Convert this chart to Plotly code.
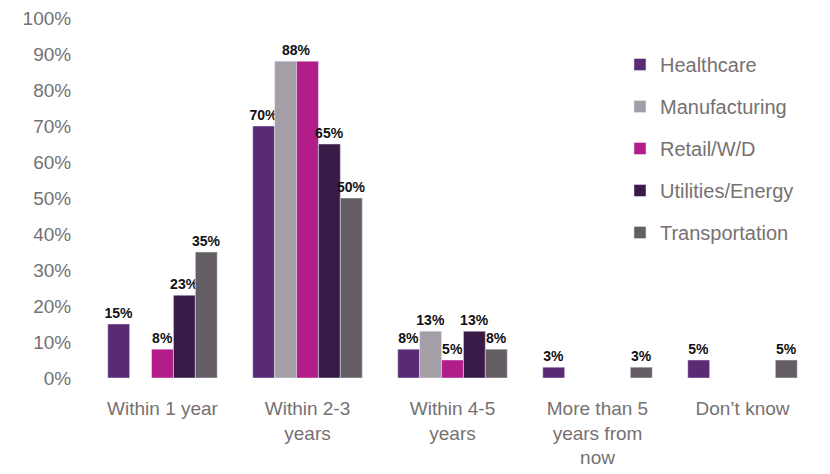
import plotly.graph_objects as go

categories = ["Within 1 year", "Within 2-3<br>years", "Within 4-5<br>years",
              "More than 5<br>years from<br>now", "Don\u2019t know"]
series_names = ["Healthcare", "Manufacturing", "Retail/W/D", "Utilities/Energy", "Transportation"]
healthcare = [0.15, 0.70, 0.08, 0.03, 0.05]
manufacturing = [None, 0.88, 0.13, None, None]
retail = [0.08, 0.88, 0.05, None, None]
utilities = [0.23, 0.65, 0.13, None, None]
transportation = [0.35, 0.50, 0.08, 0.03, 0.05]
colors = ["#5B2A74", "#A49FA6", "#B21D8A", "#3A1A47", "#645D63"]
y_ticks = [i / 10 for i in range(11)]

all_values = [healthcare, manufacturing, retail, utilities, transportation]

fig = go.Figure()
for i, (name, vals, col) in enumerate(zip(series_names, all_values, colors)):
    texts = []
    for j, v in enumerate(vals):
        if v is None:
            texts.append("")
        elif j == 1 and name in ("Manufacturing", "Retail/W/D"):
            texts.append("")  # shared label drawn as annotation
        else:
            texts.append(f"{round(v*100)}%")
    fig.add_trace(go.Bar(
        x=categories, y=vals, name=name, marker_color=col,
        text=texts, textposition="outside", cliponaxis=False,
        textfont=dict(family="Liberation Sans, Arial", size=14, color="#111111"),
        legendgroup=name,
    ))

fig.add_annotation(x=categories[1], y=manufacturing[1], text="<b>88%</b>",
                   showarrow=False, yanchor="bottom", xshift=-11, yshift=1,
                   font=dict(family="Liberation Sans, Arial", size=14, color="#111111"))

fig.update_traces(texttemplate="<b>%{text}</b>")

fig.update_layout(
    width=830, height=474,
    margin=dict(l=90, r=15, t=18, b=96),
    barmode="group", bargap=0.245, bargroupgap=0,
    uniformtext=dict(minsize=14, mode="show"),
    plot_bgcolor="white", paper_bgcolor="white",
    font=dict(family="Liberation Sans, Arial", color="#767171"),
    showlegend=True,
    legend=dict(x=0.731, y=0.925, xanchor="left", yanchor="top",
                font=dict(size=20, color="#767171"),
                traceorder="grouped", tracegroupgap=13,
                itemwidth=30, bgcolor="rgba(0,0,0,0)"),
    xaxis=dict(showgrid=False, showline=False, ticks="outside", ticklen=13,
               tickcolor="rgba(0,0,0,0)", automargin=False,
               tickfont=dict(size=19, color="#767171")),
    yaxis=dict(range=[0, 1], tickvals=y_ticks, tickformat=".0%",
               showgrid=False, showline=False, zeroline=False,
               ticks="outside", ticklen=14, tickcolor="rgba(0,0,0,0)",
               automargin=False,
               tickfont=dict(size=19, color="#767171")),
)

fig.write_html("out.html", config={"displayModeBar": False},
               post_script="document.body.style.margin='0';")
